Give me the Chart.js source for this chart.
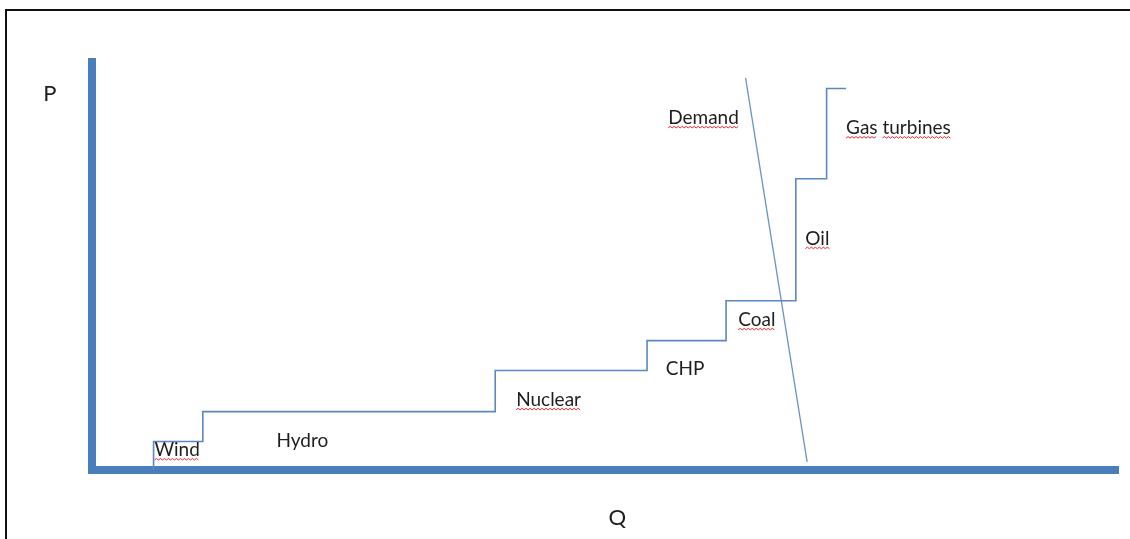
<!DOCTYPE html>
<html>
<head>
<meta charset="utf-8">
<script src="https://cdn.jsdelivr.net/npm/chart.js@4.4.0/dist/chart.umd.min.js"></script>
<style>
  html, body { margin: 0; padding: 0; background: #fff; overflow: hidden; }
  #wrap { position: relative; width: 1130px; height: 539px; }
  #frame { position: absolute; left: 5px; top: 9px; width: 1200px; height: 600px; border: 2px solid #111; }
  #meuGrafico { position: absolute; left: 0; top: 0; }
</style>
</head>
<body>
<div id="wrap">
  <div id="frame"></div>
  <canvas id="meuGrafico" width="1130" height="539"></canvas>
</div>
<script>
// supply curve (merit order), stepped: horizontal first, then vertical
var supplyQ = [6, 6, 10.8, 39.3, 54.1, 61.8, 68.6, 71.6, 73.5];
var supplyP = [0, 7.0, 14.3, 24.4, 31.7, 41.5, 71.4, 93.5, 93.5];

// demand line
var demandQ = [63.7, 69.7];
var demandP = [96.1, 2.0];

// labels of the plants
var labelText = ["Wind", "Hydro", "Nuclear", "CHP", "Coal", "Oil", "Demand", "Gas turbines"];
var labelQ = [8.3, 20.5, 44.5, 57.8, 64.8, 70.7, 59.6, 78.6];
var labelP = [4.9, 7.2, 17.2, 24.8, 36.8, 56.7, 86.3, 83.8];
var labelWavy = [true, false, true, false, true, true, true, true];

// axis names
var axisText = ["P", "Q"];
var axisQ = [-4.1, 51.2];
var axisP = [92.2, -11.8];

var azul = '#4a7ebb';

function pontos(qs, ps) {
    var out = [];
    for (var i = 0; i < qs.length; i++) {
        out.push({ x: qs[i], y: ps[i] });
    }
    return out;
}

function onda(ctx, x0, x1, y) {
    ctx.beginPath();
    var up = true;
    ctx.moveTo(x0, y);
    for (var x = x0 + 2; x <= x1; x += 2) {
        ctx.lineTo(x, up ? y - 1.5 : y);
        up = !up;
    }
    ctx.stroke();
}

var rotulos = {
    id: 'rotulos',
    afterDraw: function (chart) {
        var ctx = chart.ctx;
        var sx = chart.scales.x, sy = chart.scales.y;
        ctx.save();
        ctx.textAlign = 'center';
        ctx.textBaseline = 'middle';
        ctx.fillStyle = '#1e1e1e';
        ctx.font = '19px Lato';
        for (var i = 0; i < labelText.length; i++) {
            var px = sx.getPixelForValue(labelQ[i]);
            var py = sy.getPixelForValue(labelP[i]);
            ctx.fillText(labelText[i], px, py);
            if (labelWavy[i]) {
                ctx.strokeStyle = '#e8262b';
                ctx.lineWidth = 1;
                var total = ctx.measureText(labelText[i]).width;
                var x = px - total / 2;
                var palavras = labelText[i].split(' ');
                for (var j = 0; j < palavras.length; j++) {
                    var w = ctx.measureText(palavras[j]).width;
                    onda(ctx, x, x + w, py + 10);
                    x += w + ctx.measureText(' ').width;
                }
            }
        }
        ctx.font = '22px Lato';
        for (var k = 0; k < axisText.length; k++) {
            ctx.fillText(axisText[k], sx.getPixelForValue(axisQ[k]), sy.getPixelForValue(axisP[k]));
        }
        ctx.restore();
    }
};

function gerarGrafico() {
    var ctx = document.getElementById('meuGrafico').getContext('2d');
    new Chart(ctx, {
        type: 'scatter',
        data: {
            datasets: [
                {
                    label: 'Supply',
                    data: pontos(supplyQ, supplyP),
                    showLine: true,
                    stepped: 'before',
                    borderColor: '#5b88c0',
                    borderWidth: 1.6,
                    pointRadius: 0,
                    fill: false
                },
                {
                    label: 'Demand',
                    data: pontos(demandQ, demandP),
                    showLine: true,
                    borderColor: '#6a93c6',
                    borderWidth: 1.3,
                    pointRadius: 0,
                    fill: false
                }
            ]
        },
        options: {
            responsive: false,
            animation: false,
            layout: { padding: { left: 92, right: 12, top: 62, bottom: 69 } },
            plugins: { legend: { display: false }, tooltip: { enabled: false } },
            scales: {
                x: {
                    type: 'linear', min: 0, max: 100,
                    grid: { display: false, drawTicks: false },
                    ticks: { display: false },
                    border: { display: true, width: 8, color: azul }
                },
                y: {
                    type: 'linear', min: 0, max: 100,
                    grid: { display: false, drawTicks: false },
                    ticks: { display: false },
                    border: { display: true, width: 8, color: azul }
                }
            }
        },
        plugins: [rotulos]
    });
}

gerarGrafico();
</script>
</body>
</html>
